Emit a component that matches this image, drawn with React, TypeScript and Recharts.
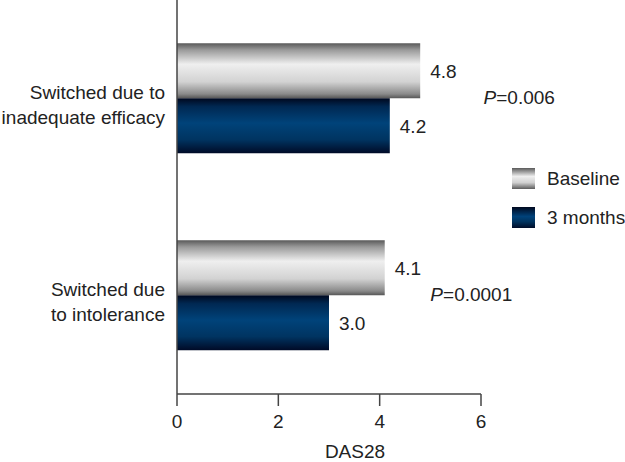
import React from 'react';
import { BarChart, Bar, XAxis, YAxis, LabelList } from 'recharts';

const groups = ['Switched due to|inadequate efficacy', 'Switched due|to intolerance'];
const baseline = [4.8, 4.1];
const threeMonths = [4.2, 3.0];
const pValues = ['0.006', '0.0001'];
const pPosition = [6.05, 5.0];
const xTicks = [0, 2, 4, 6];

const data = groups.map((g, i) => ({
  group: g,
  baseline: baseline[i],
  threeMonths: threeMonths[i],
  p: pValues[i],
  pPos: pPosition[i],
}));

const FONT = '"Liberation Sans", Arial, sans-serif';
const FS = 19;

const CategoryTick = (props: any) => {
  const { x, y, payload } = props;
  const lines = String(payload.value).split('|');
  return (
    <text x={x - 4} y={y} textAnchor="end" fontFamily={FONT} fontSize={FS} fill="#222">
      <tspan x={x - 4} dy={0}>{lines[0]}</tspan>
      <tspan x={x - 4} dy={25}>{lines[1]}</tspan>
    </text>
  );
};

const PLabel = (props: any) => {
  const { x, y, width, height, index, value } = props;
  const perUnit = width / value;
  const px = x + data[index].pPos * perUnit;
  return (
    <text x={px} y={y + height + 6} fontFamily={FONT} fontSize={FS} fill="#222">
      <tspan fontStyle="italic">P</tspan>={data[index].p}
    </text>
  );
};

const AxisTitle = (props: any) => {
  const { viewBox } = props;
  return (
    <text x={viewBox.x + viewBox.width / 2 + 26} y={458} textAnchor="middle" fontFamily={FONT} fontSize={FS} fill="#222">
      DAS28
    </text>
  );
};

const legendItems = [
  { label: 'Baseline', bg: 'linear-gradient(#5a5a5a, #efefef 40%, #d0d0d0 70%, #5c5c5c)' },
  { label: '3 months', bg: 'linear-gradient(#00081e, #00427a 45%, #00335f 70%, #000c28)' },
];

const App: React.FC = () => {
  return (
    <div style={{ position: 'absolute', left: 0, top: 0, width: 625, height: 462, background: '#fff', overflow: 'hidden' }}>
      <BarChart
        width={625}
        height={462}
        data={data}
        layout="vertical"
        margin={{ top: 0, right: 144, left: 0, bottom: 0 }}
        barGap={0}
        barCategoryGap="22%"
      >
        <defs>
          <linearGradient id="grayGrad" x1="0" y1="0" x2="0" y2="1">
            <stop offset="0%" stopColor="#5a5a5a" />
            <stop offset="12%" stopColor="#9a9a9a" />
            <stop offset="38%" stopColor="#efefef" />
            <stop offset="70%" stopColor="#d2d2d2" />
            <stop offset="92%" stopColor="#8a8a8a" />
            <stop offset="100%" stopColor="#555" />
          </linearGradient>
          <linearGradient id="blueGrad" x1="0" y1="0" x2="0" y2="1">
            <stop offset="0%" stopColor="#00081e" />
            <stop offset="15%" stopColor="#002852" />
            <stop offset="45%" stopColor="#00437a" />
            <stop offset="75%" stopColor="#003461" />
            <stop offset="100%" stopColor="#000a26" />
          </linearGradient>
        </defs>
        <XAxis
          type="number"
          domain={[0, 6]}
          ticks={xTicks}
          height={68}
          stroke="#444"
          strokeWidth={1.5}
          tickSize={12}
          tick={{ fill: '#222', fontSize: FS, fontFamily: FONT }}
          tickMargin={9}
          label={<AxisTitle />}
        />
        <YAxis
          type="category"
          dataKey="group"
          width={177}
          stroke="#444"
          strokeWidth={1.5}
          tickLine={false}
          tick={<CategoryTick />}
        />
        <Bar dataKey="baseline" fill="url(#grayGrad)" isAnimationActive={false}>
          <LabelList dataKey="baseline" position="right" offset={10} fill="#222" fontSize={FS} fontFamily={FONT} formatter={(v: any) => Number(v).toFixed(1)} />
          <LabelList dataKey="baseline" content={<PLabel />} />
        </Bar>
        <Bar dataKey="threeMonths" fill="url(#blueGrad)" isAnimationActive={false}>
          <LabelList dataKey="threeMonths" position="right" offset={10} fill="#222" fontSize={FS} fontFamily={FONT} formatter={(v: any) => Number(v).toFixed(1)} />
        </Bar>
      </BarChart>
      <div style={{ position: 'absolute', left: 512, top: 168, width: 113, fontFamily: FONT, fontSize: FS, color: '#222', whiteSpace: 'nowrap' }}>
        {legendItems.map((it) => (
          <div key={it.label} style={{ display: 'flex', alignItems: 'center', height: 21, marginBottom: 18 }}>
            <div style={{ width: 23, height: 21, flexShrink: 0, background: it.bg, marginRight: 12 }} />
            <span>{it.label}</span>
          </div>
        ))}
      </div>
    </div>
  );
};

export default App;
